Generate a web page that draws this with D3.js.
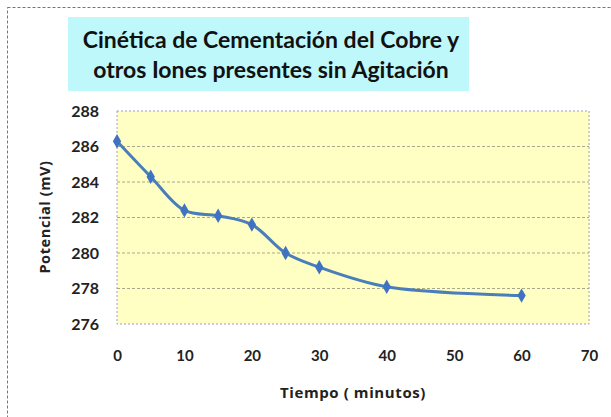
<!DOCTYPE html>
<html>
<head>
<meta charset="utf-8">
<script src="https://cdn.jsdelivr.net/npm/d3@7"></script>
<style>
  body { margin: 0; background: #fff; }
  svg { display: block; }
</style>
</head>
<body>
<div id="chart"></div>
<script>
const tiempo = [0, 5, 10, 15, 20, 25, 30, 40, 60];
const potencial = [286.3, 284.3, 282.4, 282.1, 281.6, 280.0, 279.2, 278.1, 277.6];
const xTicks = [0, 10, 20, 30, 40, 50, 60, 70];
const yTicks = [276, 278, 280, 282, 284, 286, 288];
const titleLines = ['Cinética de Cementación del Cobre y', 'otros Iones presentes sin Agitación'];

const W = 611, H = 417;
const margin = { top: 111, right: 22, bottom: 93, left: 117 };
const width = W - margin.left - margin.right;
const height = H - margin.top - margin.bottom;
const font = 'Lato, "Open Sans", sans-serif';

const svg = d3.select('#chart').append('svg')
  .attr('width', W)
  .attr('height', H);

// outer dashed frame
svg.append('rect')
  .attr('x', 7.5).attr('y', 7.5)
  .attr('width', W + 20).attr('height', H + 20)
  .attr('fill', 'none')
  .attr('stroke', '#777')
  .attr('stroke-dasharray', '3,2');

// title box
svg.append('rect')
  .attr('x', 68).attr('y', 17)
  .attr('width', 401).attr('height', 74)
  .attr('fill', '#bff8fb');

svg.append('g').selectAll('text')
  .data(titleLines)
  .enter().append('text')
  .attr('x', 271)
  .attr('y', (d, i) => 48 + i * 30)
  .attr('text-anchor', 'middle')
  .attr('font-family', font)
  .attr('font-weight', 'bold')
  .attr('font-size', 23)
  .attr('fill', '#111')
  .text(d => d);

const g = svg.append('g')
  .attr('transform', `translate(${margin.left}, ${margin.top})`);

const x = d3.scaleLinear().domain([0, 70]).range([0, width]);
const y = d3.scaleLinear().domain([276, 288]).range([height, 0]);

g.append('rect')
  .attr('width', width).attr('height', height)
  .attr('fill', '#ffffc4');

// gridlines
g.append('g').selectAll('line')
  .data(yTicks.filter(d => d > 276 && d < 288))
  .enter().append('line')
  .attr('x1', 0).attr('x2', width)
  .attr('y1', d => y(d)).attr('y2', d => y(d))
  .attr('stroke', '#a8a88a')
  .attr('stroke-dasharray', '3,2');

g.append('rect')
  .attr('width', width).attr('height', height)
  .attr('fill', 'none')
  .attr('stroke', '#a0a0b8')
  .attr('stroke-dasharray', '2,2');

const yAxis = g.append('g')
  .call(d3.axisLeft(y).tickValues(yTicks).tickSize(0).tickPadding(18));
yAxis.select('.domain').remove();
yAxis.selectAll('text')
  .attr('font-family', font).attr('font-weight', 'bold')
  .attr('font-size', 16).attr('fill', '#222');

const xAxis = g.append('g')
  .attr('transform', `translate(0, ${height})`)
  .call(d3.axisBottom(x).tickValues(xTicks).tickSize(0).tickPadding(26));
xAxis.select('.domain').remove();
xAxis.selectAll('text')
  .attr('font-family', font).attr('font-weight', 'bold')
  .attr('font-size', 15).attr('fill', '#222');

svg.append('text')
  .attr('transform', `translate(50, 217) rotate(-90)`)
  .attr('text-anchor', 'middle')
  .attr('font-family', '"Open Sans", sans-serif').attr('font-weight', 'bold')
  .attr('font-size', 14.5).attr('letter-spacing', 0.6).attr('fill', '#222')
  .text('Potencial (mV)');

svg.append('text')
  .attr('x', 353)
  .attr('y', 398)
  .attr('text-anchor', 'middle')
  .attr('font-family', '"Open Sans", sans-serif').attr('font-weight', 'bold')
  .attr('font-size', 15).attr('letter-spacing', 0.6).attr('fill', '#222')
  .text('Tiempo ( minutos)');

const data = tiempo.map((t, i) => ({ t, v: potencial[i] }));

const line = d3.line()
  .x(d => x(d.t))
  .y(d => y(d.v))
  .curve(d3.curveCatmullRom.alpha(0.5));

g.append('path')
  .datum(data)
  .attr('d', line)
  .attr('fill', 'none')
  .attr('stroke', '#4a7ebb')
  .attr('stroke-width', 3);

g.selectAll('.pt')
  .data(data)
  .enter().append('path')
  .attr('class', 'pt')
  .attr('d', d3.symbol().type(d3.symbolDiamond).size(60))
  .attr('transform', d => `translate(${x(d.t)}, ${y(d.v)})`)
  .attr('fill', '#3f73c2');
</script>
</body>
</html>
